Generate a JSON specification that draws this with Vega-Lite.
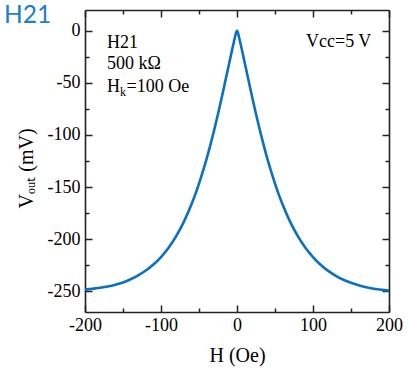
{
  "$schema": "https://vega.github.io/schema/vega-lite/v6.json",
  "width": 304,
  "height": 302,
  "autosize": "none",
  "padding": {"left": 85, "top": 10, "right": 20, "bottom": 57},
  "background": "white",
  "title": {"text": "H21", "anchor": "start", "frame": "group", "dx": -81, "dy": 21, "offset": 2, "font": "Lato", "fontSize": 24.5, "fontWeight": "normal", "color": "#1a80cc"},
  "config": {
    "view": {"stroke": null},
    "axis": {
      "grid": false,
      "domainColor": "#222",
      "domainWidth": 1.6,
      "tickColor": "#222",
      "tickWidth": 1.5,
      "labelFont": "Liberation Serif",
      "labelFontSize": 18,
      "labelColor": "#000",
      "labelFlush": false,
      "labelOverlap": false,
      "titleFont": "Liberation Serif",
      "titleFontSize": 20,
      "titleFontWeight": "normal",
      "titleColor": "#000"
    }
  },
  "layer": [
    {
      "data": {"values": [
        {"H": -200, "V": -248.5}, {"H": -190, "V": -247.6}, {"H": -180, "V": -246.7}, {"H": -170, "V": -245.5},
        {"H": -160, "V": -243.8}, {"H": -150, "V": -241.6}, {"H": -140, "V": -238.6}, {"H": -130, "V": -234.8},
        {"H": -120, "V": -230.2}, {"H": -110, "V": -224.4}, {"H": -100, "V": -217.2}, {"H": -90, "V": -208.3},
        {"H": -80, "V": -197.2}, {"H": -70, "V": -183.5}, {"H": -60, "V": -166.8}, {"H": -55, "V": -157.3},
        {"H": -50, "V": -146.7}, {"H": -45, "V": -135.3}, {"H": -40, "V": -122.9}, {"H": -35, "V": -109.5},
        {"H": -30, "V": -95.2}, {"H": -25, "V": -79.9}, {"H": -20, "V": -63.8}, {"H": -16, "V": -50.4},
        {"H": -13, "V": -40.2}, {"H": -10, "V": -30.1}, {"H": -8, "V": -23.4}, {"H": -6, "V": -16.8},
        {"H": -4, "V": -10.3}, {"H": -2, "V": -4}, {"H": -1, "V": -1.3}, {"H": 0, "V": 0},
        {"H": 1, "V": -1.3}, {"H": 2, "V": -4}, {"H": 4, "V": -10.3}, {"H": 6, "V": -16.8},
        {"H": 8, "V": -23.4}, {"H": 10, "V": -30.1}, {"H": 13, "V": -40.2}, {"H": 16, "V": -50.4},
        {"H": 20, "V": -63.8}, {"H": 25, "V": -79.9}, {"H": 30, "V": -95.2}, {"H": 35, "V": -109.5},
        {"H": 40, "V": -122.9}, {"H": 45, "V": -135.3}, {"H": 50, "V": -146.7}, {"H": 55, "V": -157.3},
        {"H": 60, "V": -166.8}, {"H": 70, "V": -183.5}, {"H": 80, "V": -197.2}, {"H": 90, "V": -208.3},
        {"H": 100, "V": -217.2}, {"H": 110, "V": -224.6}, {"H": 120, "V": -230.5}, {"H": 130, "V": -235.2},
        {"H": 140, "V": -239}, {"H": 150, "V": -242}, {"H": 160, "V": -244.4}, {"H": 170, "V": -246.2},
        {"H": 180, "V": -247.6}, {"H": 190, "V": -248.7}, {"H": 200, "V": -249.5}
      ]},
      "mark": {"type": "line", "color": "#0b70c2", "strokeWidth": 2.6, "interpolate": "monotone", "clip": true},
      "encoding": {
        "x": {
          "field": "H", "type": "quantitative",
          "scale": {"domain": [-200, 200], "nice": false, "zero": false},
          "axis": {
            "orient": "bottom",
            "values": [-200, -150, -100, -50, 0, 50, 100, 150, 200],
            "labelExpr": "datum.value % 100 === 0 ? '' + datum.value : ''",
            "tickSize": {"condition": {"test": "datum.value % 100 === 0", "value": -7}, "value": -4},
            "labelPadding": 11,
            "title": "H (Oe)",
            "titlePadding": 8
          }
        },
        "y": {
          "field": "V", "type": "quantitative",
          "scale": {"domain": [-270, 20], "nice": false, "zero": false},
          "axis": {
            "orient": "left",
            "values": [-250, -225, -200, -175, -150, -125, -100, -75, -50, -25, 0],
            "labelExpr": "datum.value % 50 === 0 ? '' + datum.value : ''",
            "tickSize": {"condition": {"test": "datum.value % 50 === 0", "value": -7}, "value": -4},
            "labelPadding": 12,
            "title": "Vₒᵤₜ (mV)",
            "titleY": 158,
            "titlePadding": 11
          }
        }
      }
    },
    {
      "data": {"values": [
        {"H": -171, "V": -16.1, "label": "H21"},
        {"H": -171, "V": -36.5, "label": "500 kΩ"},
        {"H": -171, "V": -58.4, "label": "H"},
        {"H": 90.8, "V": -15.1, "label": "Vcc=5 V"}
      ]},
      "mark": {"type": "text", "font": "Liberation Serif", "fontSize": 18, "align": "left", "baseline": "alphabetic", "color": "#000"},
      "encoding": {
        "x": {
          "field": "H", "type": "quantitative",
          "axis": {
            "orient": "top",
            "values": [-200, -150, -100, -50, 0, 50, 100, 150, 200],
            "labels": false,
            "title": null,
            "tickSize": {"condition": {"test": "datum.value % 100 === 0", "value": -7}, "value": -4}
          }
        },
        "y": {
          "field": "V", "type": "quantitative",
          "axis": {
            "orient": "right",
            "values": [-250, -225, -200, -175, -150, -125, -100, -75, -50, -25, 0],
            "labels": false,
            "title": null,
            "tickSize": {"condition": {"test": "datum.value % 50 === 0", "value": -7}, "value": -4}
          }
        },
        "text": {"field": "label"}
      }
    },
    {
      "data": {"values": [{"H": -171, "V": -58.4, "label": "k"}]},
      "mark": {"type": "text", "font": "Liberation Serif", "fontSize": 12, "align": "left", "baseline": "alphabetic", "dx": 13, "dy": 4, "color": "#000"},
      "encoding": {
        "x": {"field": "H", "type": "quantitative", "axis": null},
        "y": {"field": "V", "type": "quantitative", "axis": null},
        "text": {"field": "label"}
      }
    },
    {
      "data": {"values": [{"H": -171, "V": -58.4, "label": "=100 Oe"}]},
      "mark": {"type": "text", "font": "Liberation Serif", "fontSize": 18, "align": "left", "baseline": "alphabetic", "dx": 19.5, "color": "#000"},
      "encoding": {
        "x": {"field": "H", "type": "quantitative", "axis": null},
        "y": {"field": "V", "type": "quantitative", "axis": null},
        "text": {"field": "label"}
      }
    }
  ],
  "resolve": {"axis": {"x": "independent", "y": "independent"}}
}
